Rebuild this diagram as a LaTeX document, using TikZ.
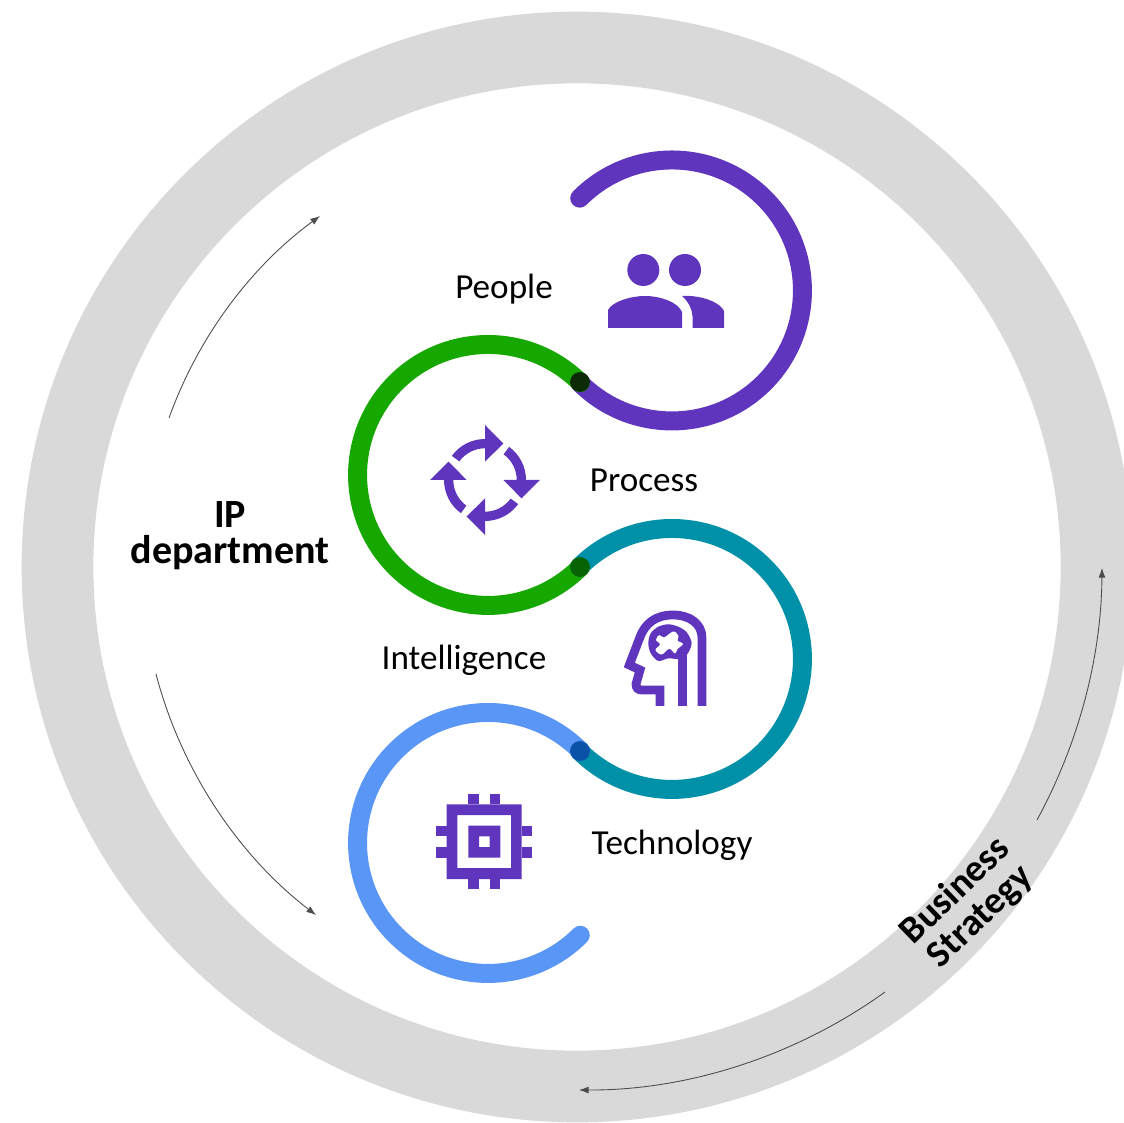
\documentclass[tikz,border=0pt]{standalone}
\usepackage{fontspec}
\setmainfont{Carlito}
\usepackage{xcolor}
\usetikzlibrary{positioning,arrows.meta}
\definecolor{ringgray}{HTML}{D9D9D9}
\definecolor{ipurple}{HTML}{5F35BE}
\definecolor{igreen}{HTML}{16A800}
\definecolor{iteal}{HTML}{0090A8}
\definecolor{iblue}{HTML}{5A96F6}
\tikzset{
    ribbon/.style={line width=10.8pt, line cap=round},
    jointdot/.style={circle, inner sep=0pt, minimum size=11.3pt},
    itemlabel/.style={anchor=base, font=\fontsize{20pt}{24pt}\selectfont},
    boldlabel/.style={align=center, font=\fontsize{22.8pt}{20.4pt}\selectfont\bfseries},
    flowarrow/.style={draw=black!70, line width=0.5pt, looseness=0.87, -{Latex[length=5.5pt,width=4pt]}},
    iconline/.style={draw=ipurple, line width=5pt}
}

\begin{document}
\begin{tikzpicture}[x=0.02cm, y=0.02cm]
    \useasboundingbox (0,0) rectangle (1124,1122);
    \clip (0,0) rectangle (1124,1122);

    \draw[ringgray, line width=40.8pt] (577,555) circle[radius=519.5];

    \coordinate (peoplestart) at (579.7,923.8);
    \coordinate (peopleend) at (579.7,739.2);
    \coordinate (processstart) at (580.3,739.3);
    \coordinate (processend) at (580.3,554.7);
    \coordinate (intelstart) at (579.7,555.3);
    \coordinate (intelend) at (579.7,370.7);
    \coordinate (techstart) at (580.3,371.3);
    \coordinate (techend) at (580.3,186.7);

    \draw[ribbon, ipurple] (peoplestart) arc[start angle=135, end angle=-135, radius=2.61cm];
    \draw[ribbon, igreen] (processstart) arc[start angle=45, end angle=315, radius=2.61cm];
    \draw[ribbon, iteal] (intelstart) arc[start angle=135, end angle=-135, radius=2.61cm];
    \draw[ribbon, iblue] (techstart) arc[start angle=45, end angle=315, radius=2.61cm];

    \node[jointdot, fill={rgb,255:red,11;green,42;blue,5}] (joint1) at (580,740) {};
    \node[jointdot, fill={rgb,255:red,5;green,98;blue,5}] (joint2) at (580,555) {};
    \node[jointdot, fill={rgb,255:red,10;green,82;blue,168}] (joint3) at (580,371) {};

    \node[itemlabel] (people) at (504,823) {People};
    \node[itemlabel] (process) at (644,630) {Process};
    \node[itemlabel] (intelligence) at (464,452) {Intelligence};
    \node[itemlabel] (technology) at (672,268) {Technology};
    \node[boldlabel] (ipdept) at (230,586) {IP\\department};
    \node[boldlabel, font=\fontsize{21.6pt}{20.4pt}\selectfont\bfseries, rotate=44] (strategy) at (968,218) {Business\\Strategy};

    \coordinate (ipa) at (169,704);
    \coordinate (ipb) at (320,906);
    \coordinate (ipc) at (156,448);
    \coordinate (ipd) at (316,207);
    \coordinate (bsa) at (1037,302);
    \coordinate (bsb) at (1102,554);
    \coordinate (bsc) at (885,130);
    \coordinate (bsd) at (579,32);

    \draw[flowarrow] (ipa) to[bend left=17] (ipb);
    \draw[flowarrow] (ipc) to[bend right=19] (ipd);
    \draw[flowarrow] (bsa) to[bend right=14] (bsb);
    \draw[flowarrow] (bsc) to[bend left=18] (bsd);

    % people icon
    \fill[ipurple] (643.3,852) circle[radius=0.32cm];
    \fill[ipurple] (685,852) circle[radius=0.32cm];
    \fill[ipurple] (608,794) -- (608,812) .. controls (612,820) and (630,826) .. (645,826) .. controls (660,826) and (678,820) .. (682,810) -- (682,794) -- cycle;
    \fill[ipurple] (682,826) -- (690,826) .. controls (706,825) and (720,819) .. (724,811) -- (724,794) -- (692.5,794) -- (692.5,806) .. controls (692,812) and (689,820) .. (682,826) -- cycle;

    % process icon
    \foreach \a in {0,90,180,270} {
        \fill[ipurple, shift={(485,642)}, rotate=\a] (54:41) arc[start angle=54, end angle=0, radius=0.82cm] -- (55,0) -- (36.5,-18.3) -- (18.3,0) -- (31.7,0) arc[start angle=0, end angle=54, radius=0.634cm] -- cycle;
    }

    % intelligence icon
    \draw[iconline, miter limit=4] (702,416) -- (702,484) .. controls (702,498) and (690,507) .. (673,507) .. controls (655,507) and (645,498) .. (640,485) -- (629.3,457) -- (640,452) -- (636,438) .. controls (636,434) and (638,432) .. (642,432) -- (660,432) -- (660,416);
    \draw[iconline] (682.7,416) -- (682.7,468);
    \fill[ipurple] plot[smooth cycle] coordinates {(648.3,478.7) (650.7,488.7) (658.3,495.3) (668.3,497.7) (678.3,495.3) (686.7,489.7) (691.7,478.7) (686.7,467) (678.3,463) (668.3,463.7) (658.3,461) (650.7,468.7)};
    \fill[white] plot[smooth cycle, tension=0.6] coordinates {(656,482) (659.3,487) (664,484.5) (673.3,490.5) (678.5,486) (677.5,481.5) (683,478) (677.5,473) (675,468.5) (669.3,473.2) (661.7,467.5) (655.5,472) (660,477.7)};

    % technology icon
    \fill[ipurple, even odd rule] (446.7,243) rectangle (521.7,317.7) (457.3,254) rectangle (511,307) (468.3,264.3) rectangle (500.3,296.3) (479,275) rectangle (489.7,285.7);
    \foreach \x in {468.3,489.7} {
        \fill[ipurple] (\x,317.7) rectangle ++(10.7,10.3);
        \fill[ipurple] (\x,233) rectangle ++(10.7,10);
    }
    \foreach \y in {264.3,285.7} {
        \fill[ipurple] (436,\y) rectangle ++(10.7,10.7);
        \fill[ipurple] (521.7,\y) rectangle ++(10.7,10.7);
    }
\end{tikzpicture}
\end{document}
